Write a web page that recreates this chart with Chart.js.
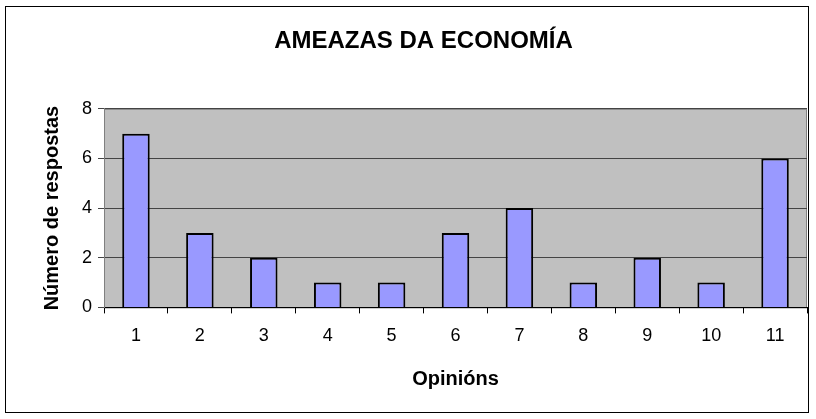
<!DOCTYPE html>
<html>
<head>
<meta charset="utf-8">
<script src="https://cdn.jsdelivr.net/npm/chart.js@4.4.1/dist/chart.umd.min.js"></script>
<style>
    html, body { margin: 0; padding: 0; background: #fff; }
    #wrap { width: 816px; height: 419px; position: relative; }
</style>
</head>
<body>
<div id="wrap"><canvas id="chartAmeazas"></canvas></div>
<script>
// Datos do gráfico
const opinions = ['1', '2', '3', '4', '5', '6', '7', '8', '9', '10', '11'];
const respostas = [7, 3, 2, 1, 1, 3, 4, 1, 2, 1, 6];
const yTicks = [0, 2, 4, 6, 8];

const FONT = '"Liberation Sans", Arial, sans-serif';

// Fondo gris da área do gráfico e marco exterior
const plotBackground = {
    id: 'plotBackground',
    beforeDraw(chart) {
        const { ctx, chartArea } = chart;
        ctx.save();
        ctx.fillStyle = '#fff';
        ctx.fillRect(0, 0, chart.width, chart.height);
        ctx.strokeStyle = '#000';
        ctx.lineWidth = 1;
        ctx.strokeRect(5.5, 6.5, 803, 406);
        ctx.fillStyle = '#c0c0c0';
        ctx.fillRect(chartArea.left, chartArea.top, chartArea.right - chartArea.left, chartArea.bottom - chartArea.top);
        ctx.strokeStyle = '#808080';
        ctx.strokeRect(chartArea.left + 0.5, chartArea.top + 0.5, chartArea.right - chartArea.left - 1, chartArea.bottom - chartArea.top);
        ctx.restore();
    }
};

new Chart(document.getElementById('chartAmeazas').getContext('2d'), {
    type: 'bar',
    data: {
        labels: opinions,
        datasets: [{
            label: 'Número de respostas',
            data: respostas,
            backgroundColor: '#9999ff',
            borderColor: '#000',
            borderWidth: 2,
            barPercentage: 0.43,
            categoryPercentage: 1.0
        }]
    },
    options: {
        responsive: true,
        maintainAspectRatio: false,
        animation: false,
        layout: { padding: { left: 40, right: 9, top: 27, bottom: 28 } },
        plugins: {
            legend: { display: false },
            tooltip: { enabled: false },
            title: {
                display: true,
                text: 'AMEAZAS DA ECONOMÍA',
                color: '#000',
                font: { family: FONT, size: 24, weight: 'bold' },
                padding: { top: 0, bottom: 53 }
            }
        },
        scales: {
            x: {
                offset: true,
                grid: {
                    offset: true,
                    drawOnChartArea: false,
                    color: '#000',
                    tickLength: 6
                },
                border: { color: '#000', width: 1 },
                ticks: {
                    color: '#000',
                    padding: 12,
                    font: { family: FONT, size: 18 }
                },
                title: {
                    display: true,
                    text: 'Opinións',
                    color: '#000',
                    font: { family: FONT, size: 20, weight: 'bold' },
                    padding: { top: 8, bottom: 0 }
                }
            },
            y: {
                min: 0,
                max: 8,
                afterBuildTicks(axis) {
                    axis.ticks = yTicks.map(v => ({ value: v }));
                },
                grid: {
                    color: '#444',
                    tickLength: 6,
                    drawTicks: true
                },
                border: { color: '#808080' },
                ticks: {
                    color: '#000',
                    padding: 6,
                    font: { family: FONT, size: 18 }
                },
                title: {
                    display: true,
                    text: 'Número de respostas',
                    color: '#000',
                    font: { family: FONT, size: 20, weight: 'bold' },
                    padding: { top: 0, bottom: 12 }
                }
            }
        }
    },
    plugins: [plotBackground]
});
</script>
</body>
</html>
